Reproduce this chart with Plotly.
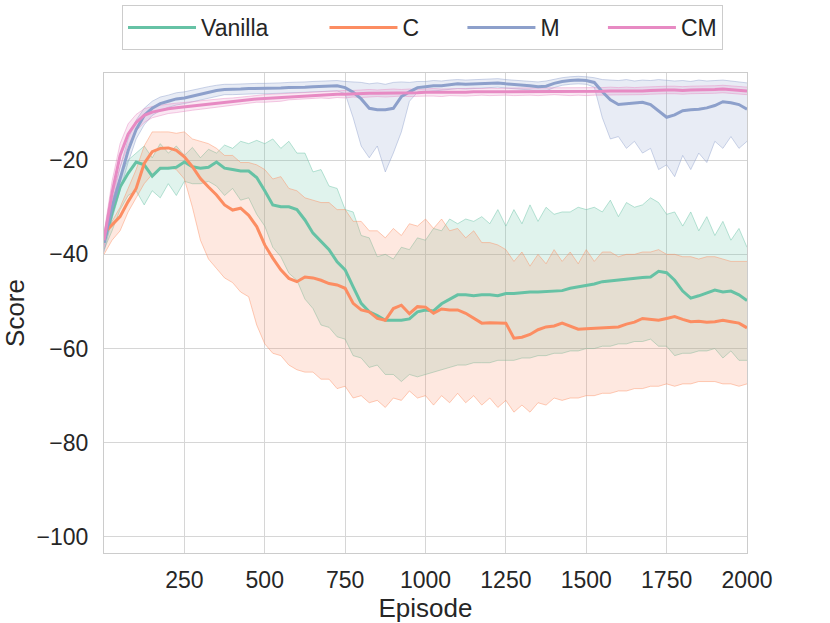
import plotly.graph_objects as go

# episodes sampled every 25 steps
episodes = list(range(0, 2001, 25))

# mean score curves
vanilla = [-37.5, -31.3, -25.7, -22.8, -20.4, -21, -23.4, -21.7, -21.7, -21.5,
           -20.4, -21.4, -21.7, -21.5, -20.4, -21.7, -22, -22.3, -22.3, -23.7,
           -26.5, -29.5, -29.9, -29.9, -30.5, -32.7, -35.5, -37.3, -39, -41.6,
           -43.3, -46.9, -50.4, -52.2, -53, -54, -54, -54, -53.7, -52.2,
           -51.8, -52, -50.5, -49.5, -48.6, -48.6, -48.8, -48.6, -48.6, -48.8,
           -48.3, -48.3, -48.1, -48, -48, -47.9, -47.9, -47.7, -47.2, -46.9,
           -46.5, -46.3, -45.8, -45.6, -45.4, -45.3, -45.1, -44.9, -44.8, -43.6,
           -43.9, -45.5, -47.8, -49.3, -48.8, -48.2, -47.6, -48, -47.8, -48.6,
           -49.8]
c_mean = [-35.5, -33.8, -32, -28.8, -26, -20.7, -18.2, -17.5, -17.4, -17.9,
          -19.3, -21.4, -23.9, -25.7, -27.4, -29.5, -30.6, -30.2, -31.7, -34.1,
          -38, -40.8, -43.3, -45.1, -45.8, -44.8, -45, -45.5, -46.2, -46.5,
          -47.2, -50.4, -51.8, -52.2, -53.6, -54, -51.5, -50.8, -52.6, -51.1,
          -51.2, -52.5, -51.6, -51.8, -51.8, -52.5, -53.6, -54.6, -54.5, -54.6,
          -54.6, -57.8, -57.6, -57, -56, -55.4, -55.2, -54.6, -55.2, -55.9,
          -55.8, -55.7, -55.6, -55.5, -55.4, -54.8, -54.4, -53.6, -53.8, -54,
          -53.6, -53.2, -53.8, -54.3, -54.2, -54.4, -54.3, -54, -54.3, -54.6,
          -55.6]
m_mean = [-37.5, -30, -24, -18, -13.5, -10.5, -9, -8, -7.5, -7,
          -6.8, -6.4, -6, -5.6, -5.2, -5, -5, -4.9, -4.8, -4.8,
          -4.8, -4.8, -4.7, -4.6, -4.6, -4.5, -4.4, -4.3, -4.2, -4.2,
          -4.6, -5.6, -7, -9, -9.3, -9.3, -9, -6.5, -5.5, -4.6,
          -4.4, -4.2, -4.2, -4, -3.8, -3.9, -3.8, -3.8, -3.7, -3.6,
          -3.8, -3.9, -4, -4.2, -4.4, -4.3, -3.7, -3.3, -3.1, -3,
          -3.1, -3.5, -5.5, -7.2, -8.2, -8, -7.9, -7.7, -8.2, -9.6,
          -10.9, -10.4, -9.5, -9.3, -9.2, -8.9, -8.4, -7.6, -7.8, -8.2,
          -9.2]
cm_mean = [-37, -27, -19, -14.5, -12, -10.5, -9.8, -9.4, -9.1, -8.9,
           -8.7, -8.5, -8.3, -8.1, -7.9, -7.7, -7.6, -7.4, -7.2, -7.0,
           -6.9, -6.8, -6.7, -6.5, -6.4, -6.3, -6.2, -6.1, -6.1, -6.0,
           -6.0, -5.9, -5.9, -5.8, -5.8, -5.8, -5.7, -5.7, -5.7, -5.7,
           -5.6, -5.6, -5.7, -5.6, -5.6, -5.6, -5.5, -5.5, -5.5, -5.5,
           -5.4, -5.5, -5.4, -5.4, -5.5, -5.4, -5.4, -5.4, -5.5, -5.4,
           -5.5, -5.4, -5.4, -5.3, -5.3, -5.3, -5.4, -5.3, -5.2, -5.1,
           -5.1, -5.1, -5.2, -5.1, -5.1, -5.0, -5.0, -4.9, -5.0, -5.1,
           -5.3]

# spread bands (upper / lower), noisy edges
vanilla_hi = [-36, -28.5, -23.5, -20, -18.5, -17, -19.5, -16.5, -18.5, -17,
              -19, -17.3, -19.5, -17.7, -18.5, -16.8, -17.5, -16, -16.5, -15.8,
              -16.5, -15.5, -17.5, -16, -18.5, -18.5, -22.5, -22, -25.5, -26,
              -30.5, -31, -36, -36.5, -40.5, -40, -41, -38.5, -39, -36.5,
              -37, -34.5, -35, -32.5, -33.5, -32.5, -33, -32, -33.5, -30.5,
              -34, -30.5, -33.5, -29.5, -33, -30, -31.5, -31, -31, -30,
              -30.5, -30, -31, -28.5, -32, -29, -30, -29.5, -28, -29,
              -31.5, -31, -34, -31, -35, -32, -36, -33, -37, -34.5,
              -38.5]
vanilla_lo = [-39, -35, -30.5, -27.5, -26.5, -29.5, -26.5, -28, -25, -27.5,
              -24.5, -25, -25, -24.5, -25.5, -27.5, -26, -28.5, -28, -31.5,
              -34, -38.5, -40.5, -44, -45.5, -49.5, -51.5, -55, -55.5, -57.5,
              -58, -61.5, -62, -64, -63.5, -65.5, -65.5, -67, -65.5, -66,
              -65.5, -65, -64.5, -64, -63.5, -63.5, -63, -63, -63, -62.5,
              -62.5, -62.5, -62, -62, -61.5, -61.5, -61, -61, -60.5, -60.5,
              -60, -60, -59.5, -59.5, -59, -59, -58.5, -58.5, -58, -59.5,
              -59.5, -61.5, -61, -61, -60.5, -60.5, -60, -62, -60.5, -62.5,
              -62.5]
c_hi = [-36, -33, -30, -26, -22, -17, -14, -14, -14, -14.3,
        -14, -15.5, -16, -16.5, -17.5, -19, -19, -20.5, -20.5, -21,
        -22, -24, -23.5, -26, -26.5, -28, -28.5, -29, -29, -30.5,
        -30.5, -33, -33, -35, -35, -36.5, -34.5, -36, -33.5, -34,
        -32.5, -34.5, -32.5, -35, -34.5, -36.5, -35, -37.5, -37.5, -38,
        -39, -41.5, -39.5, -42.5, -40, -42, -39, -41.5, -39.5, -42,
        -39, -41.5, -39.5, -39.5, -40.5, -40, -40, -39.5, -39.5, -39,
        -40, -40, -40.5, -40.5, -41, -40.5, -40.5, -41, -41.5, -41.5,
        -41.5]
c_lo = [-40, -37, -35, -31, -28, -25, -23, -22, -21.5, -22,
        -24, -30, -37, -41, -43, -45, -46, -48, -49, -55,
        -59, -61, -61.5, -63.5, -64.5, -65, -65, -66.5, -66.5, -68.5,
        -68, -70.5, -70, -71.5, -71, -72.5, -70.5, -71, -69, -70.5,
        -70, -72, -70, -71.5, -69.5, -71.5, -70, -72, -70.5, -72.5,
        -71, -73.5, -72, -73.5, -71.5, -72, -70.5, -71, -70.5, -70.5,
        -70, -70, -69.5, -69.5, -69, -69, -68.5, -68.5, -68, -68,
        -67.5, -68, -67.5, -67.5, -67, -67, -67, -67.5, -67.5, -68,
        -67.5]
m_hi = [-35.5, -27.5, -21.5, -15.5, -11.5, -9, -7.5, -6.6, -6.2, -5.7,
        -5.5, -5.1, -4.8, -4.4, -4.1, -3.9, -3.9, -3.8, -3.7, -3.7,
        -3.7, -3.7, -3.6, -3.5, -3.5, -3.4, -3.3, -3.2, -3.1, -3.1,
        -3.3, -3.4, -3.5, -3.8, -3.6, -3.9, -3.5, -3.4, -3.5, -3.3,
        -3.3, -3.1, -3.2, -3.0, -2.9, -3.0, -2.9, -2.9, -2.8, -2.7,
        -2.9, -3.0, -3.1, -3.3, -3.4, -3.2, -2.8, -2.5, -2.3, -2.2,
        -2.3, -2.5, -2.9, -3.0, -3.1, -2.9, -3.2, -3.0, -3.1, -2.9,
        -3.0, -3.2, -3.1, -3.3, -3.0, -3.2, -3.1, -3.0, -3.2, -3.4,
        -3.6]
m_lo = [-39.5, -32.5, -26.5, -20.5, -15.5, -12.5, -10.5, -9.5, -8.8, -8.3,
        -8, -7.6, -7.2, -6.8, -6.4, -6.1, -6.1, -6, -5.9, -5.9,
        -5.9, -5.9, -5.8, -5.7, -5.7, -5.6, -5.5, -5.4, -5.3, -5.3,
        -5.9, -11, -17, -19.5, -17, -22.5, -18.5, -14, -7.5, -5.6,
        -5.5, -5.3, -5.2, -5.0, -4.8, -4.9, -4.8, -4.7, -4.6, -4.5,
        -4.7, -4.8, -5.0, -5.1, -5.4, -5.3, -4.6, -4.1, -3.9, -3.8,
        -3.9, -4.5, -11, -15.5, -15, -17.5, -16, -18.5, -17.5, -22,
        -21, -23.5, -19, -22, -18.5, -20.5, -16, -17.5, -15, -17.5,
        -16]
cm_hi = [-35.5, -24.5, -16.5, -12.3, -10.3, -9.1, -8.6, -8.3, -8.1, -7.9,
         -7.8, -7.6, -7.4, -7.2, -7.0, -6.9, -6.8, -6.6, -6.4, -6.3,
         -6.1, -6.0, -5.9, -5.8, -5.7, -5.6, -5.5, -5.4, -5.3, -5.3,
         -5.2, -5.2, -5.1, -5.0, -5.1, -5.0, -4.9, -5.0, -4.9, -5.0,
         -4.9, -4.8, -4.9, -4.9, -4.8, -4.8, -4.7, -4.8, -4.7, -4.8,
         -4.7, -4.7, -4.6, -4.7, -4.7, -4.6, -4.7, -4.6, -4.7, -4.6,
         -4.7, -4.6, -4.6, -4.5, -4.6, -4.5, -4.6, -4.5, -4.4, -4.3,
         -4.3, -4.3, -4.4, -4.3, -4.3, -4.2, -4.2, -4.1, -4.2, -4.3,
         -4.5]
cm_lo = [-38.5, -29.5, -21.5, -16.8, -13.8, -12.0, -11.0, -10.5, -10.1, -9.9,
         -9.6, -9.4, -9.2, -9.0, -8.8, -8.5, -8.4, -8.2, -8.0, -7.7,
         -7.7, -7.6, -7.5, -7.2, -7.1, -7.0, -6.9, -6.8, -6.9, -6.7,
         -6.8, -6.6, -6.7, -6.6, -6.5, -6.6, -6.5, -6.4, -6.5, -6.4,
         -6.4, -6.4, -6.5, -6.3, -6.4, -6.4, -6.3, -6.2, -6.3, -6.2,
         -6.2, -6.3, -6.2, -6.2, -6.3, -6.2, -6.1, -6.2, -6.3, -6.2,
         -6.3, -6.2, -6.2, -6.1, -6.1, -6.1, -6.2, -6.1, -6.0, -5.9,
         -5.9, -5.9, -6.0, -5.9, -5.9, -5.8, -5.8, -5.7, -5.8, -5.9,
         -6.1]

NB = "\u00a0"  # pads legend entries to the reference column spacing
series = [
    ("Vanilla" + NB * 8, vanilla, vanilla_hi, vanilla_lo, (102, 194, 165)),
    ("C" + NB * 6, c_mean, c_hi, c_lo, (252, 141, 98)),
    ("M" + NB * 6, m_mean, m_hi, m_lo, (141, 160, 203)),
    ("CM", cm_mean, cm_hi, cm_lo, (231, 138, 195)),
]

fig = go.Figure()
# bands first, so every mean line sits on top of all shaded areas
for name, mean, hi, lo, rgb in series:
    r, g, b = rgb
    fig.add_trace(go.Scatter(x=episodes, y=hi, mode="lines",
                             line=dict(color=f"rgba({r},{g},{b},0.45)", width=1),
                             showlegend=False, hoverinfo="skip"))
    fig.add_trace(go.Scatter(x=episodes, y=lo, mode="lines", fill="tonexty",
                             fillcolor=f"rgba({r},{g},{b},0.2)",
                             line=dict(color=f"rgba({r},{g},{b},0.45)", width=1),
                             showlegend=False, hoverinfo="skip"))
for name, mean, hi, lo, rgb in series:
    r, g, b = rgb
    fig.add_trace(go.Scatter(x=episodes, y=mean, mode="lines", name=name,
                             line=dict(color=f"rgb({r},{g},{b})", width=3)))

axis_style = dict(showgrid=True, gridcolor="#d6d6d6", gridwidth=1,
                  showline=True, mirror=True, linecolor="#cccccc", linewidth=1.2,
                  zeroline=False, ticks="", automargin=False,
                  tickfont=dict(size=23, color="#262626"))

fig.update_xaxes(range=[0, 2000], tickvals=[250, 500, 750, 1000, 1250, 1500, 1750, 2000],
                 ticklabelstandoff=6,
                 title=dict(text="Episode", font=dict(size=26, color="#262626"), standoff=6),
                 **axis_style)
fig.update_yaxes(range=[-103.4, -1.5], tickvals=[-100, -80, -60, -40, -20],
                 ticklabelstandoff=10,
                 title=dict(text="Score", font=dict(size=26, color="#262626"), standoff=8),
                 **axis_style)

fig.update_layout(
    width=830, height=623,
    margin=dict(l=104, r=83, t=73, b=70, autoexpand=False),
    plot_bgcolor="white", paper_bgcolor="white",
    font=dict(family="Liberation Sans, Arial, sans-serif", color="#262626"),
    legend=dict(orientation="h", traceorder="normal",
                x=0.028, xanchor="left", y=1.1417, yanchor="top",
                font=dict(size=23), bordercolor="#cccccc", borderwidth=1,
                bgcolor="white", itemwidth=68),
    showlegend=True,
)

# drop the page's default body margin so the figure sits at the window corner
fig.write_html("out.html", config={"displayModeBar": False},
               post_script="document.body.style.margin='0';")
